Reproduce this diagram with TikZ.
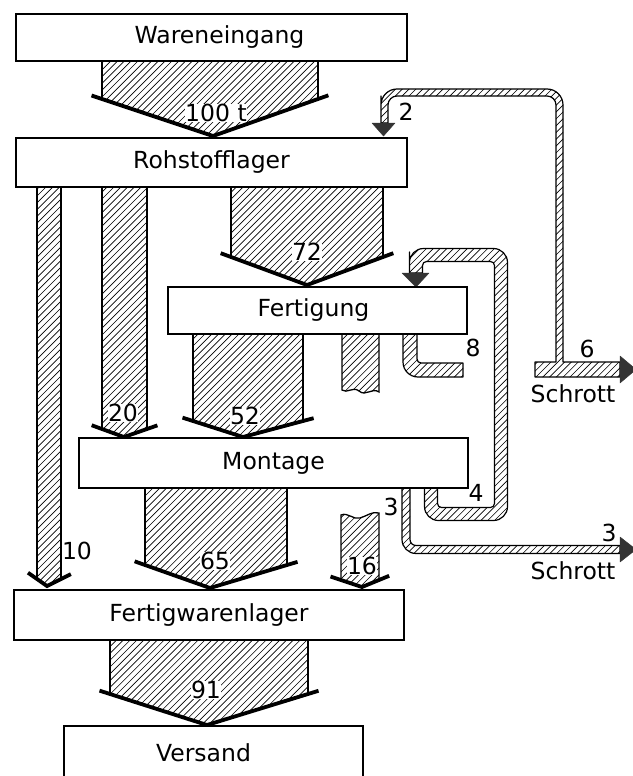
\documentclass[tikz,border=0pt]{standalone}
\usepackage{fontspec}
\setmainfont{DejaVu Sans}
\usetikzlibrary{calc}
\tikzset{
  box/.style={draw=black, line width=1.4pt, fill=white, inner sep=0pt, font=\fontsize{23.5}{27}\selectfont},
  hatchline/.style={line width=0.65pt, black},
  bodyline/.style={line width=1.3pt},
  chevron/.style={line width=3.8pt},
  pipeline/.style={line width=1.2pt, line join=round},
  tiphead/.style={fill=black!80, draw=black!80, line width=0.5pt, line join=round},
  lbl/.style={font=\fontsize{23.5}{27}\selectfont, inner sep=1pt},
  numlbl/.style={lbl, fill=white, inner sep=0.5pt},
}
\newcommand\hatchregion[1]{\begin{scope}\clip #1;\foreach \a in {-790,-783.2,...,640}{\draw[hatchline] (\a,785) -- (\a+785,0);}\end{scope}}
\newcommand\pipe[1]{\hatchregion{#1}\draw[pipeline] #1;}
\newcommand\broad[7]{%
  \coordinate (#1tl) at (#2,#4);
  \coordinate (#1tr) at (#3,#4);
  \coordinate (#1sl) at (#2,#5);
  \coordinate (#1sr) at (#3,#5);
  \coordinate (#1tip) at (#6,#7);
  \hatchregion{(#1tl) -- (#1tr) -- (#1sr) -- (#1tip) -- (#1sl) -- cycle}
  \draw[bodyline] (#1tl) -- (#1sl) (#1tr) -- (#1sr);
  \draw[chevron] ($(#1sl)!-11pt!(#1tip)$) -- (#1tip) -- ($(#1sr)!-11pt!(#1tip)$);
}
\begin{document}
\begin{tikzpicture}[x=1pt, y=-1pt]
\useasboundingbox (0,0) rectangle (632,776);
\fill[white] (0,0) rectangle (632,776);

% broad arrows
\broad{aH}{102}{318}{61}{99}{213}{136}
\broad{aS}{231}{383}{187}{257}{307}{285}
\broad{aZ}{102}{147}{187}{429}{124}{437}
\broad{aT}{37}{61}{187}{579}{47}{586}
\broad{aF}{193}{303}{334}{421}{243}{437}
\broad{aX}{145}{287}{488}{565}{210}{588}
\broad{aN}{110}{308}{640}{694}{207}{725}

% broken stub below Fertigung
\hatchregion{(342,334) -- (379,334) -- (379,392) .. controls (372,387) and (366,397) .. (359,391) .. controls (353,386) and (347,394) .. (342,390) -- cycle}
\draw[bodyline] (342,334) -- (342,390) .. controls (347,394) and (353,386) .. (359,391) .. controls (366,397) and (372,387) .. (379,392) -- (379,334);

% 16 arrow (continuation)
\coordinate (a16sl) at (341,580);
\coordinate (a16sr) at (379,580);
\coordinate (a16tip) at (362,587);
\hatchregion{(341,515) .. controls (348,512) and (353,520) .. (360,518) .. controls (367,516) and (372,511) .. (379,513) -- (a16sr) -- (a16tip) -- (a16sl) -- cycle}
\draw[bodyline] (a16sl) -- (341,515) .. controls (348,512) and (353,520) .. (360,518) .. controls (367,516) and (372,511) .. (379,513) -- (a16sr);
\draw[chevron] ($(a16sl)!-11pt!(a16tip)$) -- (a16tip) -- ($(a16sr)!-11pt!(a16tip)$);

% pipe A: recycling 2 and scrap 6
\pipe{(535,377) -- (620,377) -- (620,362) -- (563,362) -- (563,300) [rounded corners=16] -- (563,89) -- (381,89) -- (381,112) [sharp corners] -- (381,123) -- (388,123) -- (388,115) [rounded corners=9] -- (388,96) -- (556,96) -- (556,300) [sharp corners] -- (556,362) -- (535,362) -- cycle}
\draw[tiphead] (372,123) -- (395,123) -- (383.5,136) -- cycle;
\draw[tiphead] (620,356) -- (636,369.5) -- (620,383) -- cycle;

% pipe B: rework 4
\pipe{(424.5,488) -- (424.5,500) [rounded corners=14] -- (424.5,520.5) -- (507.5,520.5) -- (507.5,248.5) -- (409.5,248.5) -- (409.5,266) [sharp corners] -- (409.5,273) -- (422.5,273) -- (422.5,268) [rounded corners=4] -- (422.5,261.5) -- (494.5,261.5) -- (494.5,507.5) -- (437.5,507.5) -- (437.5,496) [sharp corners] -- (437.5,488) -- cycle}
\draw[tiphead] (402,273) -- (429,273) -- (416,287) -- cycle;

% pipe C: scrap 8 from Fertigung
\pipe{(403,334) -- (403,345) [rounded corners=15] -- (403,377) -- (440,377) [sharp corners] -- (463,377) -- (463,363) -- (440,363) [rounded corners=4] -- (417,363) -- (417,350) [sharp corners] -- (417,334) -- cycle}

% pipe D: scrap 3 from Montage
\pipe{(402,488) -- (402,520) [rounded corners=14] -- (402,553.5) -- (560,553.5) [sharp corners] -- (620,553.5) -- (620,545.5) -- (560,545.5) [rounded corners=6] -- (410,545.5) -- (410,525) [sharp corners] -- (410,488) -- cycle}
\draw[tiphead] (620,537) -- (636,549.5) -- (620,562) -- cycle;

% boxes
\node[box, minimum width=391pt, minimum height=47pt] (we) at (211.5,37.5) {\hspace*{16pt}Wareneingang};
\node[box, minimum width=391pt, minimum height=49pt] (rl) at (211.5,162.5) {Rohstofflager};
\node[box, minimum width=299pt, minimum height=47pt] (fe) at (317.5,310.5) {Fertigung\hspace*{8pt}};
\node[box, minimum width=389pt, minimum height=50pt] (mo) at (273.5,463) {Montage};
\node[box, minimum width=390pt, minimum height=50pt] (fw) at (209,615) {Fertigwarenlager};
\node[box, minimum width=299pt, minimum height=54pt] (ve) at (213.5,753) {Versand\hspace*{20pt}};

% labels
\node[numlbl] (l100) at (216,113) {100 t};
\node[numlbl] (l72) at (307,252) {72};
\node[numlbl] (l20) at (123,413) {20};
\node[numlbl] (l52) at (245,416) {52};
\node[lbl] (l10) at (77,551) {10};
\node[numlbl] (l65) at (215,561) {65};
\node[numlbl] (l16) at (362,566) {16};
\node[numlbl] (l91) at (206,690) {91};
\node[lbl] (l2) at (406,112) {2};
\node[lbl] (l8) at (473,348) {8};
\node[lbl] (l6) at (587,349) {6};
\node[lbl] (s1) at (573,394) {Schrott};
\node[lbl] (l4) at (476,493) {4};
\node[lbl] (l3a) at (391,507) {3};
\node[lbl] (l3b) at (609,533) {3};
\node[lbl] (s2) at (573,571) {Schrott};
\end{tikzpicture}
\end{document}
